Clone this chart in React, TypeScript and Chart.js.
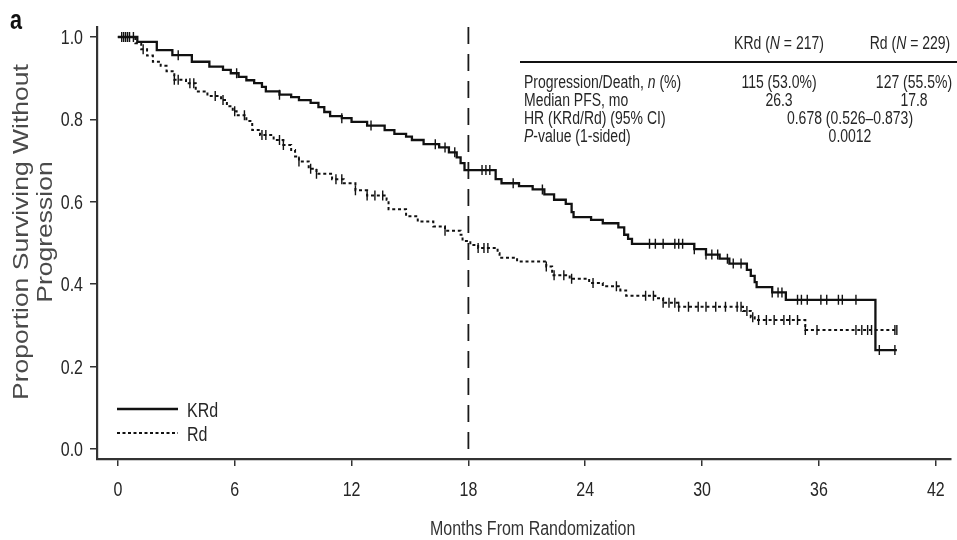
import React, { useEffect, useRef } from "react";
import { Chart, registerables } from "chart.js";
Chart.register(...registerables);

// ---------- data ----------
const xTicks = [0, 6, 12, 18, 24, 30, 36, 42];
const yTicks = [0, 0.2, 0.4, 0.6, 0.8, 1.0];
const yTickLabels = ["0.0", "0.2", "0.4", "0.6", "0.8", "1.0"];
const landmarkMonth = 18;

const seriesNames = ["KRd", "Rd"];

const krdTimes = [0, 1.0, 2.0, 2.8, 3.8, 4.7, 5.4, 5.8, 6.2, 6.6, 7.0, 7.4, 7.6, 8.3, 8.9, 9.3, 9.9, 10.3, 10.6, 10.9, 11.5, 12.0, 12.8, 13.7, 14.2, 14.8, 15.1, 15.7, 16.5, 17.0, 17.4, 17.6, 17.8, 19.4, 19.7, 20.6, 21.3, 21.9, 22.4, 23.0, 23.3, 23.4, 24.3, 24.9, 25.7, 26.0, 26.2, 26.4, 29.6, 30.2, 30.9, 31.4, 32.3, 32.5, 32.7, 32.8, 33.6, 34.3, 38.9, 40.0];
const krdSurv = [1.0, 0.988, 0.968, 0.956, 0.94, 0.928, 0.92, 0.912, 0.903, 0.895, 0.888, 0.879, 0.868, 0.86, 0.854, 0.847, 0.84, 0.83, 0.818, 0.808, 0.803, 0.794, 0.785, 0.774, 0.765, 0.758, 0.75, 0.74, 0.732, 0.72, 0.708, 0.694, 0.677, 0.655, 0.645, 0.638, 0.63, 0.618, 0.605, 0.595, 0.575, 0.563, 0.556, 0.548, 0.538, 0.52, 0.51, 0.498, 0.485, 0.472, 0.462, 0.45, 0.435, 0.42, 0.405, 0.393, 0.38, 0.362, 0.24, 0.24];
const krdCensor = [0.2, 0.4, 0.6, 0.8, 3.1, 6.1, 8.3, 11.5, 13.0, 16.3, 16.8, 17.3, 18.7, 18.9, 19.1, 20.3, 21.8, 27.3, 27.6, 28.0, 28.6, 28.8, 29.0, 29.6, 30.2, 30.5, 30.8, 31.3, 31.6, 32.0, 33.6, 33.9, 34.1, 34.9, 35.1, 35.4, 36.1, 36.4, 37.0, 37.2, 37.9, 39.1, 39.9];

const rdTimes = [0, 0.9, 1.2, 1.5, 1.8, 2.2, 2.5, 2.9, 3.5, 4.0, 4.6, 5.3, 5.6, 5.9, 6.1, 6.6, 6.9, 7.3, 8.0, 8.5, 8.9, 9.1, 9.3, 9.8, 10.2, 11.0, 11.6, 12.2, 12.8, 13.8, 13.9, 14.8, 15.4, 16.2, 16.8, 17.6, 17.7, 18.1, 18.5, 19.5, 19.6, 20.5, 22.0, 22.3, 23.2, 24.2, 24.9, 25.8, 26.1, 27.6, 28.0, 28.8, 32.1, 32.5, 32.7, 35.3, 40.0];
const rdSurv = [1.0, 0.985, 0.97, 0.955, 0.94, 0.93, 0.917, 0.896, 0.888, 0.868, 0.857, 0.847, 0.832, 0.82, 0.81, 0.796, 0.774, 0.762, 0.75, 0.738, 0.726, 0.71, 0.698, 0.68, 0.668, 0.655, 0.645, 0.628, 0.615, 0.605, 0.582, 0.565, 0.552, 0.54, 0.53, 0.52, 0.505, 0.495, 0.488, 0.475, 0.464, 0.455, 0.443, 0.422, 0.413, 0.403, 0.395, 0.385, 0.372, 0.366, 0.355, 0.345, 0.335, 0.32, 0.313, 0.289, 0.289];
const rdCensor = [0.3, 0.5, 1.3, 2.9, 3.1, 3.7, 3.9, 5.0, 5.4, 6.0, 6.5, 7.4, 7.6, 8.3, 8.5, 9.3, 9.9, 10.2, 11.2, 11.5, 12.2, 12.8, 13.2, 13.6, 16.8, 18.5, 18.8, 19.0, 22.0, 22.4, 22.9, 23.3, 24.4, 25.6, 27.1, 27.5, 28.0, 28.3, 28.6, 28.8, 29.3, 29.8, 30.2, 30.7, 31.2, 31.8, 32.0, 32.3, 32.6, 32.9, 33.3, 33.7, 34.2, 34.5, 34.9, 35.3, 35.9, 37.9, 38.2, 38.5, 38.7, 39.9, 40.0];

// table text: runs of [text, italic]
type Run = [string, boolean];
const tableHeaders: Run[][] = [
  [["KRd (", false], ["N", true], [" = 217)", false]],
  [["Rd (", false], ["N", true], [" = 229)", false]],
];
const tableRowLabels: Run[][] = [
  [["Progression/Death, ", false], ["n", true], [" (%)", false]],
  [["Median PFS, mo", false]],
  [["HR (KRd/Rd) (95% CI)", false]],
  [["P", true], ["-value (1-sided)", false]],
];
const krdColumn = ["115 (53.0%)", "26.3"];
const rdColumn = ["127 (55.5%)", "17.8"];
const sharedRows = ["0.678 (0.526\u20130.873)", "0.0012"];

const panelLabel = "a";
const xTitle = "Months From Randomization";
const yTitleLines = ["Proportion Surviving Without", "Progression"];

// ---------- helpers ----------
function survAt(times: number[], surv: number[], t: number) {
  let s = surv[0];
  for (let i = 0; i < times.length; i++) if (times[i] <= t) s = surv[i];
  return s;
}

const SANS = "'Liberation Sans', Arial, sans-serif";
const SX = 0.8;

function drawRuns(
  ctx: CanvasRenderingContext2D,
  runs: Run[],
  x: number,
  y: number,
  size: number,
  align: "left" | "center" | "right",
  color: string,
  weight = "normal",
  sx = SX
) {
  ctx.save();
  ctx.fillStyle = color;
  ctx.textBaseline = "alphabetic";
  ctx.textAlign = "left";
  const fonts = runs.map(([, it]) => `${it ? "italic " : ""}${weight} ${size}px ${SANS}`);
  let total = 0;
  runs.forEach(([t], i) => {
    ctx.font = fonts[i];
    total += ctx.measureText(t).width;
  });
  let start = 0;
  if (align === "center") start = -total / 2;
  else if (align === "right") start = -total;
  ctx.translate(x, y);
  ctx.scale(sx, 1);
  let cx = start;
  runs.forEach(([t], i) => {
    ctx.font = fonts[i];
    ctx.fillText(t, cx, 0);
    cx += ctx.measureText(t).width;
  });
  ctx.restore();
}

const TEXT = "#262626";

const decorPlugin = {
  id: "decor",
  beforeDatasetsDraw(chart: any) {
    const { ctx, chartArea, scales } = chart;
    const x = scales.x.getPixelForValue(landmarkMonth);
    ctx.save();
    ctx.strokeStyle = "#1a1a1a";
    ctx.lineWidth = 1.8;
    ctx.setLineDash([17, 10]);
    ctx.beginPath();
    ctx.moveTo(x, chartArea.top);
    ctx.lineTo(x, chartArea.bottom);
    ctx.stroke();
    ctx.restore();
  },
  afterDraw(chart: any) {
    const { ctx, scales } = chart;
    const xs = scales.x;
    const ys = scales.y;
    const fs = 20;

    // tick labels
    xTicks.forEach((v) => {
      drawRuns(ctx, [[String(v), false]], xs.getPixelForValue(v), 496, fs, "center", TEXT);
    });
    yTicks.forEach((v, i) => {
      drawRuns(ctx, [[yTickLabels[i], false]], 83, ys.getPixelForValue(v) + 7, fs, "right", TEXT);
    });

    // axis titles
    drawRuns(ctx, [[xTitle, false]], xs.getPixelForValue(21.3), 535, fs, "center", "#333");
    const cy = 232;
    [22, 46].forEach((lx, i) => {
      ctx.save();
      ctx.translate(lx, cy);
      ctx.rotate(-Math.PI / 2);
      ctx.scale(1, 0.8);
      ctx.font = `26.5px ${SANS}`;
      ctx.fillStyle = "#4a4a4a";
      ctx.textAlign = "center";
      ctx.textBaseline = "middle";
      ctx.fillText(yTitleLines[i], 0, 0);
      ctx.restore();
    });

    // panel label
    drawRuns(ctx, [[panelLabel, false]], 10, 29, 27, "left", "#111", "bold");

    // legend
    const lx0 = 117, lx1 = 178;
    ctx.save();
    ctx.strokeStyle = "#111";
    ctx.lineWidth = 2.4;
    ctx.beginPath();
    ctx.moveTo(lx0, 409);
    ctx.lineTo(lx1, 409);
    ctx.stroke();
    ctx.lineWidth = 2;
    ctx.setLineDash([3, 2.5]);
    ctx.beginPath();
    ctx.moveTo(lx0, 433);
    ctx.lineTo(lx1, 433);
    ctx.stroke();
    ctx.restore();
    drawRuns(ctx, [[seriesNames[0], false]], 187, 417, fs, "left", TEXT);
    drawRuns(ctx, [[seriesNames[1], false]], 187, 441, fs, "left", TEXT);

    // table
    const tfs = 17.5;
    const col1 = 779, col2 = 910, colMid = 850;
    drawRuns(ctx, tableHeaders[0], col1, 49, tfs, "center", TEXT);
    drawRuns(ctx, tableHeaders[1], col2, 49, tfs, "center", TEXT);
    ctx.save();
    ctx.strokeStyle = "#111";
    ctx.lineWidth = 2.2;
    ctx.beginPath();
    ctx.moveTo(520, 62);
    ctx.lineTo(957, 62);
    ctx.stroke();
    ctx.restore();
    const rowY = [88, 106, 124, 142];
    tableRowLabels.forEach((runs, i) => drawRuns(ctx, runs, 524, rowY[i], tfs, "left", TEXT));
    krdColumn.forEach((t, i) => drawRuns(ctx, [[t, false]], col1, rowY[i], tfs, "center", TEXT));
    rdColumn.forEach((t, i) => drawRuns(ctx, [[t, false]], col2 + 4, rowY[i], tfs, "center", TEXT));
    sharedRows.forEach((t, i) => drawRuns(ctx, [[t, false]], colMid, rowY[i + 2], tfs, "center", TEXT));
  },
};

export default function App() {
  const ref = useRef<HTMLCanvasElement | null>(null);
  useEffect(() => {
    if (!ref.current) return;
    const line = (times: number[], surv: number[]) => times.map((t, i) => ({ x: t, y: surv[i] }));
    const cens = (c: number[], times: number[], surv: number[]) =>
      c.map((t) => ({ x: t, y: survAt(times, surv, t) }));
    const chart = new Chart(ref.current, {
      type: "line",
      data: {
        datasets: [
          {
            label: seriesNames[0],
            data: line(krdTimes, krdSurv),
            stepped: "before",
            borderColor: "#111",
            borderWidth: 2.3,
            pointRadius: 0,
            fill: false,
          },
          {
            label: seriesNames[1],
            data: line(rdTimes, rdSurv),
            stepped: "before",
            borderColor: "#111",
            borderWidth: 2,
            borderDash: [3, 2.8],
            pointRadius: 0,
            fill: false,
          },
          {
            label: seriesNames[0] + " censored",
            data: cens(krdCensor, krdTimes, krdSurv),
            showLine: false,
            pointStyle: "line",
            rotation: 90,
            pointRadius: 5,
            borderColor: "#111",
            pointBorderWidth: 1.4,
          },
          {
            label: seriesNames[1] + " censored",
            data: cens(rdCensor, rdTimes, rdSurv),
            showLine: false,
            pointStyle: "line",
            rotation: 90,
            pointRadius: 5,
            borderColor: "#111",
            pointBorderWidth: 1.4,
          },
        ],
      },
      options: {
        responsive: false,
        animation: false,
        events: [],
        layout: { padding: { top: 27, left: 0, right: 0, bottom: 0 } },
        plugins: { legend: { display: false }, tooltip: { enabled: false } },
        scales: {
          x: {
            type: "linear",
            min: -1.07,
            max: 42.76,
            afterBuildTicks: (s: any) => {
              s.ticks = xTicks.map((v) => ({ value: v }));
            },
            afterFit: (s: any) => {
              s.height = 81;
            },
            ticks: { display: false },
            grid: { drawOnChartArea: false, drawTicks: true, tickLength: 7, color: "#333", lineWidth: 1.5 },
            border: { display: true, color: "#333", width: 2.2 },
          },
          y: {
            type: "linear",
            min: -0.0243,
            max: 1.0243,
            afterBuildTicks: (s: any) => {
              s.ticks = yTicks.map((v) => ({ value: v }));
            },
            afterFit: (s: any) => {
              s.width = 97;
            },
            ticks: { display: false },
            grid: { drawOnChartArea: false, drawTicks: true, tickLength: 7, color: "#333", lineWidth: 1.5 },
            border: { display: true, color: "#333", width: 2.2 },
          },
        },
      },
      plugins: [decorPlugin],
    });
    return () => chart.destroy();
  }, []);
  return (
    <div style={{ position: "absolute", left: 0, top: 0, width: 957, height: 540, background: "#fff" }}>
      <canvas ref={ref} width={957} height={540} style={{ display: "block", width: 957, height: 540, filter: "blur(0.4px)" }} />
    </div>
  );
}
